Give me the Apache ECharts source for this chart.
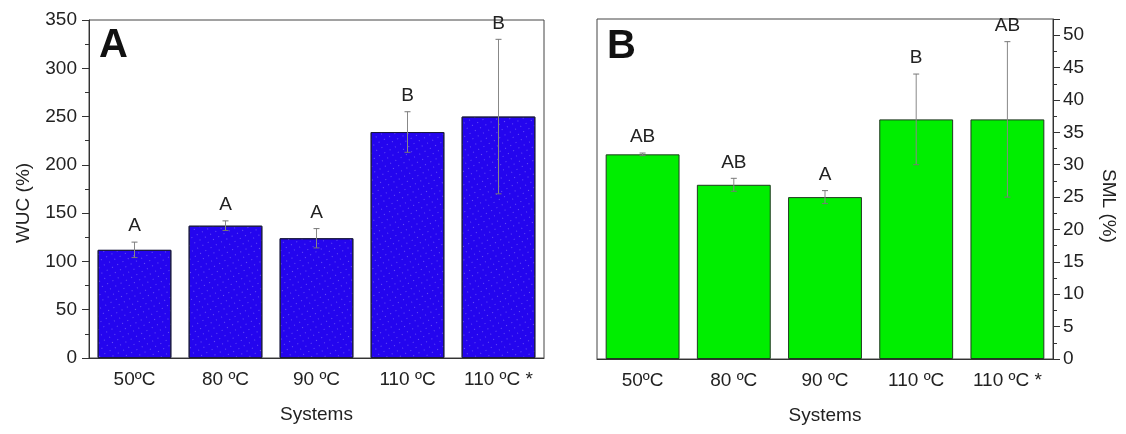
<!DOCTYPE html>
<html>
<head>
<meta charset="utf-8">
<script src="https://cdn.jsdelivr.net/npm/echarts@6/dist/echarts.min.js"></script>
<style>
  html, body { margin: 0; padding: 0; background: #fff; }
  #main { width: 1126px; height: 434px; }
</style>
</head>
<body>
<div id="main"></div>
<script>
// categories shared by both panels
var systems = ["50ºC", "80 ºC", "90 ºC", "110 ºC", "110 ºC *"];

// panel A: water uptake capacity
var wucMean = [112, 137, 124, 234, 250];
var wucErr = [8, 5, 10, 21, 80];
var wucLetters = ["A", "A", "A", "B", "B"];

// panel B: soluble matter loss
var smlMean = [31.6, 26.9, 25, 37, 37];
var smlErr = [0.2, 1, 1, 7, 12];
var smlLetters = ["AB", "AB", "A", "B", "AB"];

var FONT = "Liberation Sans, Arial, sans-serif";

function errData(mean, err) {
  return mean.map(function (m, i) { return [i, m - err[i], m + err[i]]; });
}

// error bar + significance letter, drawn through the axis scales
function errRenderer(letters, offset) {
  return function (params, api) {
    var x = api.value(0);
    var lo = api.coord([x, api.value(1)]);
    var hi = api.coord([x, api.value(2)]);
    var cap = 3;
    return {
      type: "group",
      children: [
        { type: "line", shape: { x1: hi[0], y1: hi[1], x2: lo[0], y2: lo[1] }, style: { stroke: "#888", lineWidth: 1 } },
        { type: "line", shape: { x1: hi[0] - cap, y1: hi[1], x2: hi[0] + cap, y2: hi[1] }, style: { stroke: "#777", lineWidth: 1 } },
        { type: "line", shape: { x1: lo[0] - cap, y1: lo[1], x2: lo[0] + cap, y2: lo[1] }, style: { stroke: "#777", lineWidth: 1 } },
        {
          type: "text",
          style: {
            text: letters[params.dataIndex],
            x: hi[0], y: hi[1] - offset,
            align: "center", verticalAlign: "middle",
            fill: "#222", font: "19px " + FONT
          }
        }
      ]
    };
  };
}

function catAxes(gridIndex) {
  return [
    {
      type: "category", gridIndex: gridIndex, position: "bottom", data: systems,
      name: "Systems", nameLocation: "middle", nameGap: 47,
      nameTextStyle: { fontSize: 19, fontFamily: FONT, color: "#222" },
      axisLine: { lineStyle: { color: "#333" } },
      axisTick: { alignWithLabel: true, length: 7, lineStyle: { color: "#333" } },
      axisLabel: { margin: 12, fontSize: 19, fontFamily: FONT, color: "#222" }
    },
    {
      // short ticks between categories
      type: "category", gridIndex: gridIndex, position: "bottom", data: systems,
      axisLine: { show: false },
      axisTick: { length: 4, lineStyle: { color: "#333" } },
      axisLabel: { show: false }
    }
  ];
}

var chart = echarts.init(document.getElementById("main"));
chart.setOption({
  animation: false,
  title: [
    { text: "A", left: 99, top: 26, padding: 0, textStyle: { fontSize: 40, fontWeight: "bold", fontFamily: FONT, color: "#111" } },
    { text: "B", left: 607, top: 27, padding: 0, textStyle: { fontSize: 40, fontWeight: "bold", fontFamily: FONT, color: "#111" } }
  ],
  grid: [
    { left: 89, top: 20, width: 455, height: 338, show: true, borderColor: "#444", borderWidth: 1 },
    { left: 597, top: 19, width: 456, height: 340, show: true, borderColor: "#444", borderWidth: 1 }
  ],
  xAxis: catAxes(0).concat(catAxes(1)),
  yAxis: [
    {
      type: "value", gridIndex: 0, min: 0, max: 350, interval: 50,
      name: "WUC (%)", nameLocation: "middle", nameGap: 56,
      nameTextStyle: { fontSize: 19, fontFamily: FONT, color: "#222", padding: [0, 28, 0, 0] },
      axisLine: { show: true, lineStyle: { color: "#333" } },
      axisTick: { show: true, length: 7, lineStyle: { color: "#333" } },
      minorTick: { show: true, splitNumber: 2, length: 4, lineStyle: { color: "#333" } },
      axisLabel: { margin: 12, fontSize: 19, fontFamily: FONT, color: "#222" },
      splitLine: { show: false }
    },
    {
      type: "value", gridIndex: 1, position: "right", min: 0, max: 52.5, interval: 5,
      name: "SML (%)", nameLocation: "middle", nameGap: 46, nameRotate: -90,
      nameTextStyle: { fontSize: 19, fontFamily: FONT, color: "#222", padding: [0, 0, 0, 34] },
      axisLine: { show: true, lineStyle: { color: "#333" } },
      axisTick: { show: true, length: 7, lineStyle: { color: "#333" } },
      minorTick: { show: true, splitNumber: 2, length: 4, lineStyle: { color: "#333" } },
      axisLabel: { margin: 10, fontSize: 19, fontFamily: FONT, color: "#222", showMaxLabel: false },
      splitLine: { show: false }
    }
  ],
  series: [
    {
      type: "bar", xAxisIndex: 0, yAxisIndex: 0, data: wucMean, barWidth: "81%",
      itemStyle: {
        color: "#2405ee", borderColor: "#1a1a40", borderWidth: 1,
        decal: {
          symbol: "rect", symbolSize: 1, color: "rgba(255,255,255,0.3)",
          dashArrayX: [1, 5], dashArrayY: [1, 5], rotation: -0.5
        }
      }
    },
    {
      type: "custom", xAxisIndex: 0, yAxisIndex: 0, data: errData(wucMean, wucErr),
      renderItem: errRenderer(wucLetters, 16), z: 5
    },
    {
      type: "bar", xAxisIndex: 2, yAxisIndex: 1, data: smlMean, barWidth: "81%",
      itemStyle: { color: "#00ee00", borderColor: "#1f3a1f", borderWidth: 1 }
    },
    {
      type: "custom", xAxisIndex: 2, yAxisIndex: 1, data: errData(smlMean, smlErr),
      renderItem: errRenderer(smlLetters, 16), z: 5
    }
  ]
});
</script>
</body>
</html>
